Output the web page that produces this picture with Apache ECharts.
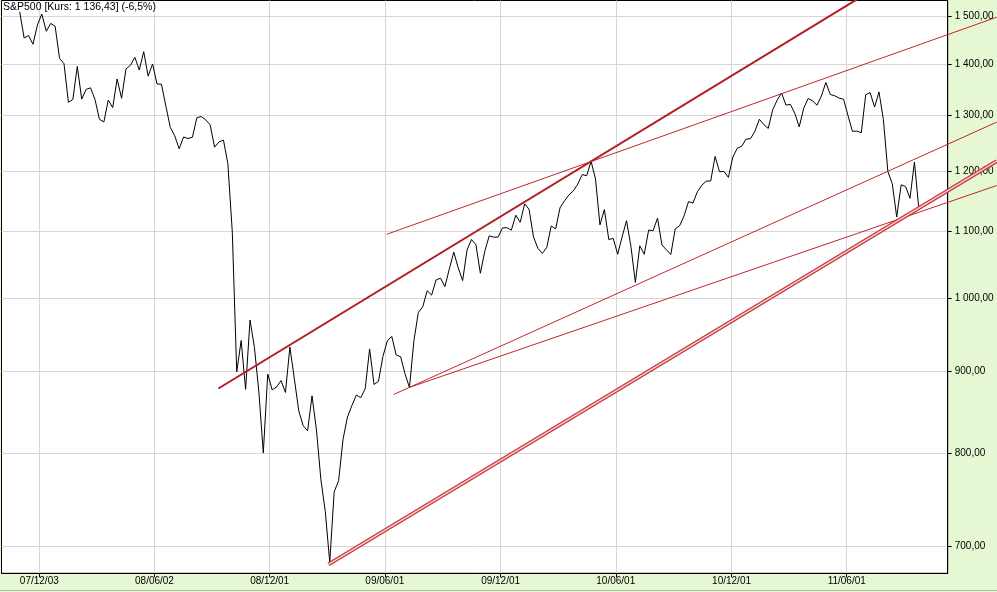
<!DOCTYPE html>
<html><head><meta charset="utf-8">
<script src="https://cdn.jsdelivr.net/npm/echarts@6/dist/echarts.min.js"></script>
<style>html,body{margin:0;padding:0;background:#e6f7d4;overflow:hidden}#c{width:997px;height:592px}</style>
</head><body><div id="c"></div>
<script>
// ---------- DATA ----------
const titleText = 'S&P500 [Kurs: 1 136,43] (-6,5%)';
const firstWeek = '2007-11-02';           // weekly closes, one per week
const close2007 = [1509.65,1453.70,1458.74,1440.70,1481.14,1504.66,1467.95,1484.46,1478.49];
const close2008 = [1411.63,1401.02,1325.19,1330.61,1395.42,1331.29,1349.99,1353.11,1330.63,1293.37,1288.14,1329.51,1315.22,
  1370.40,1332.83,1390.33,1397.84,1413.90,1388.28,1425.35,1375.93,1400.38,1360.68,1360.03,1317.93,1278.38,1262.90,1239.49,
  1260.68,1257.76,1260.31,1296.32,1298.20,1292.20,1282.83,1242.31,1251.70,1255.08,1213.27,1099.23,899.22,940.55,876.77,
  968.75,930.99,873.29,800.03,896.24,876.07,879.73,887.88,872.80];
const close2009 = [931.80,890.35,850.12,831.95,825.88,868.60,826.84,770.05,735.09,683.38,756.55,768.54,815.94,842.50,856.56,
  869.60,866.23,877.52,929.23,882.88,887.00,919.14,940.09,946.21,921.23,918.90,896.42,879.13,940.38,979.26,987.48,1010.48,
  1004.09,1026.13,1028.93,1016.40,1042.73,1068.30,1044.38,1025.21,1071.49,1087.68,1079.60,1036.19,1069.30,1093.48,1091.38,
  1091.49,1105.98,1106.41,1102.47,1126.48];
const close2010 = [1115.10,1144.98,1136.03,1091.76,1073.87,1066.19,1075.51,1109.17,1104.49,1138.70,1149.99,1159.90,1166.59,
  1178.10,1194.37,1192.13,1217.28,1186.69,1110.88,1135.68,1087.69,1089.41,1064.88,1091.60,1117.51,1076.76,1022.58,1077.96,
  1064.88,1102.66,1101.60,1121.64,1079.25,1071.69,1064.59,1104.51,1109.55,1125.59,1148.67,1146.24,1165.15,1176.19,1183.08,
  1183.26,1225.85,1199.21,1199.73,1189.40,1224.71,1240.40,1243.91,1256.77,1257.64];
const close2011 = [1271.50,1293.24,1283.35,1276.34,1310.87,1329.15,1343.01,1319.88,1321.15,1304.28,1279.20,1313.80,1332.41,
  1328.17,1319.68,1337.38,1363.61,1340.20,1337.77,1333.27,1331.10,1300.16,1270.98,1271.50,1268.45,1339.67,1343.80,1316.14,
  1345.02,1292.28,1199.38,1178.81,1123.53,1176.80,1173.97,1154.23,1216.01,1136.43];

const xTickDates = ['2007-12-03','2008-06-02','2008-12-01','2009-06-01','2009-12-01','2010-06-01','2010-12-01','2011-06-01'];
const yTickValues = [700,800,900,1000,1100,1200,1300,1400,1500];
const xRange = ['2007-10-04T06:00:00Z','2011-11-07T14:00:00Z'];
const yRange = [672.8, 1534.3];

// trend lines: [date, price] start and end
const trendUpperThick = [['2008-09-11', 877.8], ['2011-08-24', 1595.7]];
const trendUpperThin  = [['2009-06-04', 1095.9], ['2012-01-24', 1497.9]];
const trendMidThin    = [['2009-06-15', 870.3], ['2012-01-24', 1287.9]];
const trendLowThin    = [['2009-07-10', 879.2], ['2012-01-24', 1175.6]];
const trendSupport    = [['2009-03-04', 681.5], ['2012-01-24', 1217.6]];

// ---------- BUILD ----------
const closes = [].concat(close2007, close2008, close2009, close2010, close2011);
const DAY = 86400000;
const t0 = Date.parse(firstWeek + 'T00:00:00Z');
const mainData = closes.map((v, i) => [t0 + i * 7 * DAY, Math.log(v)]);
const parseD = s => Date.parse(s.length === 10 ? s + 'T00:00:00Z' : s);
const toRow = arr => [parseD(arr[0][0]), Math.log(arr[0][1]), parseD(arr[1][0]), Math.log(arr[1][1])];

function fmtNum(n) {
  if (n >= 1000) return Math.floor(n / 1000) + ' ' + String(n % 1000).padStart(3, '0') + ',00';
  return n + ',00';
}
function fmtDate(v) {
  const d = new Date(v);
  const p = x => String(x).padStart(2, '0');
  return p(d.getUTCFullYear() % 100) + '/' + p(d.getUTCMonth() + 1) + '/' + p(d.getUTCDate());
}
const FONT = 'Liberation Sans, Arial, sans-serif';
const red = '#c0262b';

function trend(data, color, width, z) {
  return {
    type: 'custom', data: [toRow(data)], clip: false, silent: true, z: z,
    encode: { x: [0, 2], y: [1, 3] },
    renderItem: function (params, api) {
      const p1 = api.coord([api.value(0), api.value(1)]);
      const p2 = api.coord([api.value(2), api.value(3)]);
      return { type: 'line', shape: { x1: p1[0], y1: p1[1], x2: p2[0], y2: p2[1] },
               style: { stroke: color, lineWidth: width, fill: null } };
    }
  };
}

const chart = echarts.init(document.getElementById('c'), null, { renderer: 'canvas' });
chart.setOption({
  animation: false,
  backgroundColor: '#e6f7d4',
  title: { text: titleText, left: 3, top: 2, padding: 0,
           textStyle: { fontFamily: FONT, fontSize: 10.5, fontWeight: 'normal', color: '#000' } },
  grid: { left: 1.5, right: 49.3, top: 0.5, bottom: 18.7, show: true, backgroundColor: '#ffffff',
          borderColor: '#000', borderWidth: 1, containLabel: false },
  xAxis: {
    type: 'value', min: parseD(xRange[0]), max: parseD(xRange[1]),
    axisLine: { show: true, lineStyle: { color: '#000', width: 1 } },
    axisTick: { show: true, inside: false, length: 4, lineStyle: { color: '#000' },
                customValues: xTickDates.map(parseD) },
    axisLabel: { show: true, customValues: xTickDates.map(parseD), formatter: fmtDate, margin: 3,
                 fontFamily: FONT, fontSize: 10, color: '#000', hideOverlap: false },
    splitLine: { show: true, lineStyle: { color: '#d6d6d6', width: 1 } }
  },
  yAxis: {
    type: 'value', position: 'right', min: Math.log(yRange[0]), max: Math.log(yRange[1]), scale: true,
    axisLine: { show: true, lineStyle: { color: '#000', width: 1 } },
    axisTick: { show: true, inside: false, length: 4, lineStyle: { color: '#000' },
                customValues: yTickValues.map(Math.log) },
    axisLabel: { show: true, customValues: yTickValues.map(Math.log), margin: 7,
                 formatter: v => fmtNum(Math.round(Math.exp(v))),
                 fontFamily: FONT, fontSize: 10, color: '#000' },
    splitLine: { show: true, lineStyle: { color: '#d6d6d6', width: 1 } }
  },
  graphic: [
    { type: 'rect', shape: { x: 0, y: 590, width: 997, height: 1 }, style: { fill: '#a9bfa3' }, silent: true, z: 100 }
  ],
  series: [
    { type: 'line', data: mainData, showSymbol: false, silent: true, z: 3,
      lineStyle: { color: '#000', width: 1 } },
    trend(trendUpperThick, '#b01c22', 2, 5),
    trend(trendUpperThin, red, 1, 5),
    trend(trendMidThin, red, 1, 5),
    trend(trendLowThin, red, 1, 5),
    trend(trendSupport, '#c8343a', 4, 5),
    trend(trendSupport, '#f7d2d2', 1.4, 6)
  ]
});
</script>
</body></html>
